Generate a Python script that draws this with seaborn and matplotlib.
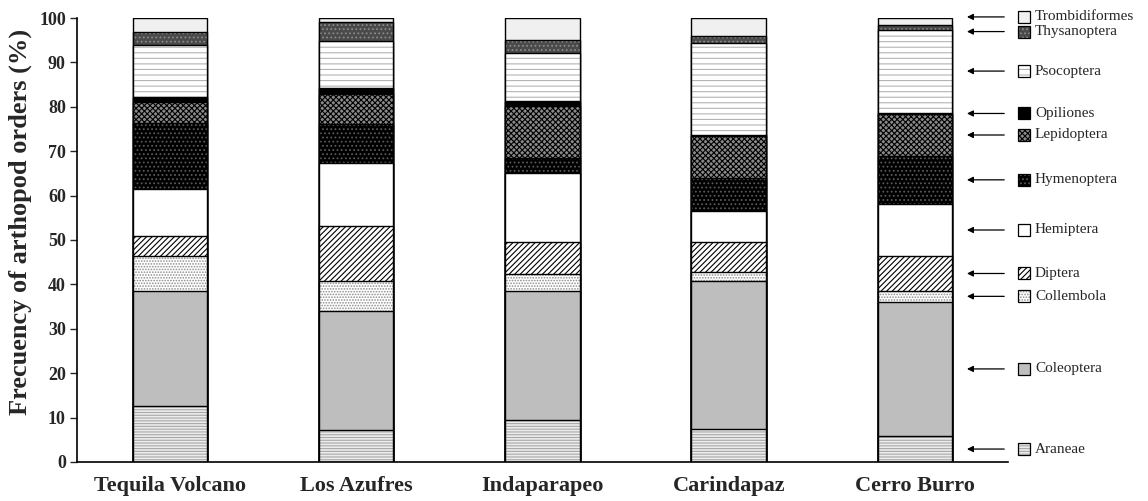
import matplotlib
matplotlib.use("Agg")
import matplotlib.pyplot as plt
import numpy as np
import pandas as pd
import seaborn as sns
from matplotlib.patches import Rectangle

# Sampling sites (x categories)
sites = ["Tequila Volcano", "Los Azufres", "Indaparapeo", "Carindapaz", "Cerro Burro"]

# Relative frequency (%) of each arthropod order per site
araneae        = [12.6,  7.3,  9.5,  7.4,  5.8]
coleoptera     = [26.0, 26.7, 29.1, 33.3, 30.3]
collembola     = [ 7.7,  6.8,  3.8,  2.1,  2.4]
diptera        = [ 4.7, 12.3,  7.2,  6.7,  7.9]
hemiptera      = [10.5, 14.2, 15.6,  7.1, 11.7]
hymenoptera    = [14.9,  8.9,  3.2,  7.4, 10.9]
lepidoptera    = [ 4.7,  6.7, 11.7,  9.5,  9.3]
opiliones      = [ 1.2,  1.3,  1.2,  0.2,  0.4]
psocoptera     = [11.7, 10.7, 10.9, 20.7, 18.7]
thysanoptera   = [ 2.9,  4.1,  2.8,  1.5,  1.1]
trombidiformes = [ 3.1,  1.0,  5.0,  4.1,  1.5]

orders = ["Araneae", "Coleoptera", "Collembola", "Diptera", "Hemiptera",
          "Hymenoptera", "Lepidoptera", "Opiliones", "Psocoptera",
          "Thysanoptera", "Trombidiformes"]

df = pd.DataFrame({
    "Araneae": araneae, "Coleoptera": coleoptera, "Collembola": collembola,
    "Diptera": diptera, "Hemiptera": hemiptera, "Hymenoptera": hymenoptera,
    "Lepidoptera": lepidoptera, "Opiliones": opiliones, "Psocoptera": psocoptera,
    "Thysanoptera": thysanoptera, "Trombidiformes": trombidiformes,
}, index=sites)

# face colour, hatch pattern, hatch colour per order
styles = {
    "Araneae":        ("#ececec", "------", "#a8a8a8"),
    "Coleoptera":     ("#bebebe", "",       "#bebebe"),
    "Collembola":     ("#ffffff", "......", "#8c8c8c"),
    "Diptera":        ("#ffffff", "//////", "#000000"),
    "Hemiptera":      ("#ffffff", "",       "#ffffff"),
    "Hymenoptera":    ("#000000", "....",   "#5a5a5a"),
    "Lepidoptera":    ("#8a8a8a", "xxxxxx", "#000000"),
    "Opiliones":      ("#000000", "",       "#000000"),
    "Psocoptera":     ("#ffffff", "---",    "#b4b4b4"),
    "Thysanoptera":   ("#4a4a4a", "....",   "#8a8a8a"),
    "Trombidiformes": ("#f0f0f0", "",       "#f0f0f0"),
}

sns.set_theme(style="ticks")
plt.rcParams["font.family"] = ["Liberation Serif", "DejaVu Serif"]
plt.rcParams["hatch.linewidth"] = 0.8

fig = plt.figure(figsize=(11.48, 5.01), dpi=100)
ax = fig.add_axes([0.067, 0.078, 0.811, 0.886])

cum = df[orders].cumsum(axis=1)

# Stacked bars: draw cumulative totals from the top order down so each
# lower segment overlays the one above it.
for order in reversed(orders):
    face, hatch, hcol = styles[order]
    sns.barplot(x=sites, y=cum[order].values, order=sites, color=face,
                saturation=1, hatch=hatch, edgecolor=hcol, linewidth=0,
                width=0.4, errorbar=None, ax=ax)
    sns.barplot(x=sites, y=cum[order].values, order=sites, fill=False,
                color="black", linewidth=1.0, width=0.4, errorbar=None, ax=ax)

ax.set_xlim(-0.5, 4.5)
ax.set_ylim(0, 100)
ax.set_yticks(np.arange(0, 101, 10))
ax.tick_params(axis="y", length=5, width=1, labelsize=13, pad=3)
ax.tick_params(axis="x", length=0, labelsize=16, pad=10)
for lab in ax.get_xticklabels() + ax.get_yticklabels():
    lab.set_fontweight("bold")
ax.set_xlabel("")
ax.set_ylabel("Frecuency of arthopod orders (%)", fontsize=19,
              fontweight="bold")
ax.yaxis.set_label_coords(-0.048, 0.54)
for side in ("top", "right"):
    ax.spines[side].set_visible(False)
for side in ("left", "bottom"):
    ax.spines[side].set_linewidth(1.2)
    ax.spines[side].set_color("black")

# Side key: arrows pointing at the segments of the last bar
last = sites[-1]
mids = (cum.loc[last] - df.loc[last] / 2.0)[orders].values.astype(float)
label_y = list(mids)
gap = 3.3
for i in range(len(label_y) - 1):
    if label_y[i + 1] - label_y[i] < gap:
        c = (label_y[i] + label_y[i + 1]) / 2.0
        label_y[i] = c - gap / 2.0
        label_y[i + 1] = c + gap / 2.0

for order, y in zip(orders, label_y):
    face, hatch, hcol = styles[order]
    ax.annotate("", xy=(4.28, y), xytext=(4.48, y),
                arrowprops=dict(arrowstyle="-|>", color="black", lw=0.9,
                                mutation_scale=9, shrinkA=0, shrinkB=0),
                annotation_clip=False)
    ax.add_patch(Rectangle((4.555, y - 1.35), 0.062, 2.7, facecolor=face,
                           hatch=hatch, edgecolor=hcol, linewidth=0,
                           clip_on=False))
    ax.add_patch(Rectangle((4.555, y - 1.35), 0.062, 2.7, fill=False,
                           edgecolor="black", linewidth=0.9, clip_on=False))
    ax.text(4.645, y, order, ha="left", va="center", fontsize=11,
            clip_on=False)

fig.savefig("out.png", dpi=100)
